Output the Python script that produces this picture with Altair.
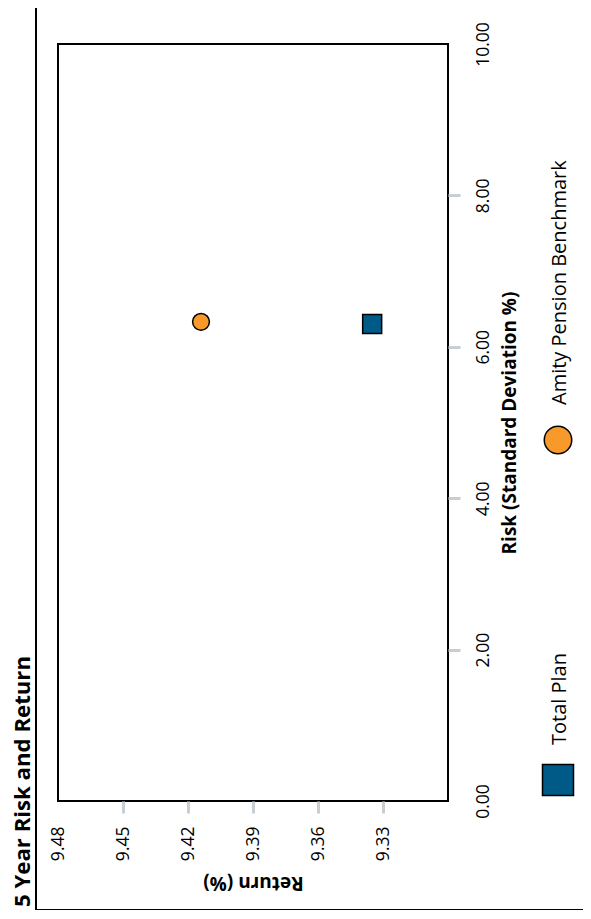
import altair as alt
import pandas as pd

# ---- data ----
series = ["Total Plan", "Amity Pension Benchmark"]
risk = [6.30, 6.33]
ret = [9.335, 9.414]
colors = ["#005A87", "#F7992B"]
shapes = ["square", "circle"]
point_sizes = [361, 283]
legend_sizes = [961, 755]
legend_order = ["Amity Pension Benchmark", "Total Plan"]
return_ticks = [9.33, 9.36, 9.39, 9.42, 9.45, 9.48]
risk_ticks = [0, 2, 4, 6, 8, 10]
title_text = "5 Year Risk and Return"

df = pd.DataFrame({"Series": series, "Risk": risk, "Return": ret})
leg_df = pd.DataFrame({"Series": legend_order})

W, H = 390, 757
FONT = "Open Sans"
TICK = "#C9CED2"

color_scale = alt.Scale(domain=series, range=colors)
shape_scale = alt.Scale(domain=series, range=shapes)

points = alt.Chart(df).mark_point(
    filled=True, stroke="black", strokeWidth=1.5, opacity=1
).encode(
    x=alt.X(
        "Return:Q",
        scale=alt.Scale(domain=[9.30, 9.48], reverse=True, nice=False, zero=False),
        axis=alt.Axis(
            values=return_ticks, format=".2f", labelAngle=270, labelFlush=False,
            labelAlign="right", labelBaseline="middle",
            grid=False, domain=False, tickColor=TICK, tickWidth=3, tickSize=12,
            tickOpacity={"condition": {"test": "datum.value >= 9.479", "value": 0}, "value": 1},
            labelPadding=13, labelFontSize=17.5, labelFont=FONT, labelColor="black",
            title="Return (%)", titleAngle=180, titleFont=FONT, titleFontSize=19,
            titleFontWeight="bold", titleColor="black", titleX=W / 2, titleY=75,
            titleAlign="center", titleBaseline="alphabetic",
        ),
    ),
    y=alt.Y(
        "Risk:Q",
        scale=alt.Scale(domain=[0, 10], nice=False, zero=False),
        axis=alt.Axis(
            orient="right", values=risk_ticks, format=".2f", labelAngle=270,
            labelAlign="center", labelBaseline="top", labelFlush=False,
            grid=False, domain=False, tickColor=TICK, tickWidth=3, tickSize=12,
            tickOpacity={"condition": {"test": "datum.value <= 0 || datum.value >= 10", "value": 0}, "value": 1},
            labelPadding=14, labelFontSize=17.5, labelFont=FONT, labelColor="black",
            title="Risk (Standard Deviation %)", titleAngle=270, titleFont=FONT,
            titleFontSize=19, titleFontWeight="bold", titleColor="black",
            titleX=67, titleY=H / 2, titleAlign="center", titleBaseline="alphabetic",
        ),
    ),
    color=alt.Color("Series:N", scale=color_scale, legend=None),
    shape=alt.Shape("Series:N", scale=shape_scale, legend=None),
    size=alt.Size("Series:N", scale=alt.Scale(domain=series, range=point_sizes), legend=None),
)

leg_y = alt.Y(
    "Series:N",
    scale=alt.Scale(domain=legend_order, range=[396, 736], padding=0),
    axis=None,
)

legend_pts = alt.Chart(leg_df).mark_point(
    filled=True, stroke="black", strokeWidth=1.5, opacity=1
).encode(
    x=alt.value(500),
    y=leg_y,
    color=alt.Color("Series:N", scale=color_scale, legend=None),
    shape=alt.Shape("Series:N", scale=shape_scale, legend=None),
    size=alt.Size("Series:N", scale=alt.Scale(domain=series, range=legend_sizes), legend=None),
)

legend_txt = alt.Chart(leg_df).mark_text(
    align="left", baseline="middle", angle=270, dx=35,
    font=FONT, fontSize=20, color="black",
).encode(
    x=alt.value(502),
    y=leg_y,
    text="Series:N",
)

frame_df = pd.DataFrame({"k": [0]})
rule_left = alt.Chart(frame_df).mark_rule(color="black", strokeWidth=2).encode(
    x=alt.value(-22), y=alt.value(-36), y2=alt.value(866)
)
rule_bottom = alt.Chart(frame_df).mark_rule(color="black", strokeWidth=2).encode(
    x=alt.value(-22), x2=alt.value(525), y=alt.value(866)
)

chart = alt.layer(
    rule_left, rule_bottom, points, legend_pts, legend_txt
).resolve_scale(
    y="independent", size="independent"
).properties(
    width=W, height=H,
    autosize=alt.AutoSizeParams(type="none"),
    padding={"left": 50, "top": 36, "right": 135, "bottom": 109},
    title=alt.TitleParams(
        title_text, orient="left", anchor="start", font=FONT, fontSize=22.2,
        fontWeight="bold", color="black", offset=1, dx=4,
    ),
    background="white",
).configure_view(
    stroke="black", strokeWidth=2
)

chart.save("out.html", embed_options={"renderer": "svg", "actions": False})
